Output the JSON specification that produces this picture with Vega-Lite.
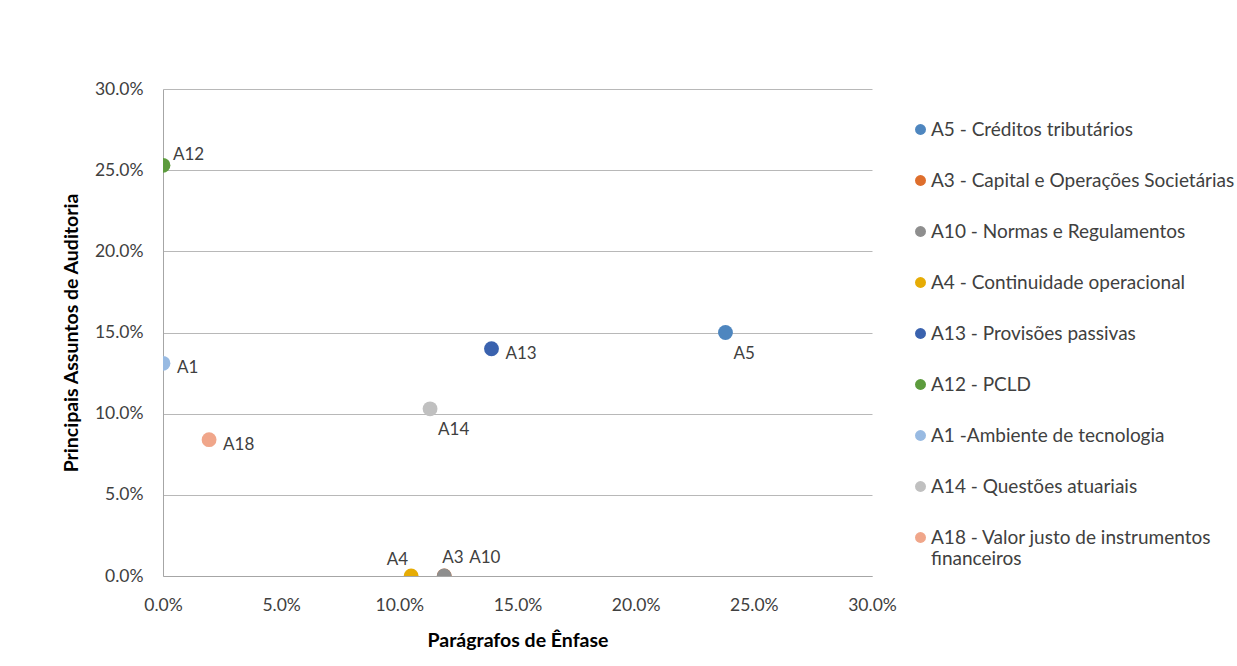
{
  "$schema": "https://vega.github.io/schema/vega-lite/v6.json",
  "width": 709,
  "height": 487,
  "autosize": {"type": "none"},
  "padding": {"left": 163, "top": 89, "right": 365, "bottom": 90},
  "background": "white",
  "config": {
    "view": {"stroke": null},
    "font": "Lato",
    "axis": {
      "labelFont": "Lato",
      "titleFont": "Lato",
      "labelFontSize": 17.5,
      "titleFontSize": 19.5,
      "labelColor": "#404040",
      "titleColor": "#000000",
      "titleFontWeight": "bold",
      "ticks": false,
      "domainColor": "#A6A6A6",
      "gridColor": "#B8B8B8"
    }
  },
  "data": {
    "values": [
      {"serie": "A5 - Créditos tributários", "label": "A5", "enfase": 0.238, "paa": 0.15},
      {"serie": "A3 - Capital e Operações Societárias", "label": "A3", "enfase": 0.119, "paa": 0.0},
      {"serie": "A10 - Normas e Regulamentos", "label": "A10", "enfase": 0.119, "paa": 0.0},
      {"serie": "A4 - Continuidade operacional", "label": "A4", "enfase": 0.105, "paa": 0.0},
      {"serie": "A13 - Provisões passivas", "label": "A13", "enfase": 0.139, "paa": 0.14},
      {"serie": "A12 - PCLD", "label": "A12", "enfase": 0.0, "paa": 0.253},
      {"serie": "A1 -Ambiente de tecnologia", "label": "A1", "enfase": 0.0, "paa": 0.131},
      {"serie": "A14 - Questões atuariais", "label": "A14", "enfase": 0.113, "paa": 0.103},
      {"serie": "A18 - Valor justo de instrumentos financeiros", "label": "A18", "enfase": 0.0195, "paa": 0.084}
    ]
  },
  "encoding": {
    "x": {
      "field": "enfase", "type": "quantitative",
      "scale": {"domain": [0, 0.3], "nice": false, "zero": false},
      "axis": {"format": ".1%", "values": [0, 0.05, 0.1, 0.15, 0.2, 0.25, 0.3], "grid": false, "labelPadding": 20, "titlePadding": 18, "title": "Parágrafos de Ênfase", "labelFlush": false}
    },
    "y": {
      "field": "paa", "type": "quantitative",
      "scale": {"domain": [0, 0.3], "nice": false, "zero": false},
      "axis": {"format": ".1%", "values": [0, 0.05, 0.1, 0.15, 0.2, 0.25, 0.3], "grid": true, "labelPadding": 20, "titlePadding": 13, "title": "Principais Assuntos de Auditoria", "domain": true, "labelFlush": false}
    }
  },
  "layer": [
    {
      "mark": {"type": "circle", "size": 220, "opacity": 1, "clip": true},
      "encoding": {
        "color": {
          "field": "serie", "type": "nominal",
          "scale": {
            "domain": ["A5 - Créditos tributários", "A3 - Capital e Operações Societárias", "A10 - Normas e Regulamentos", "A4 - Continuidade operacional", "A13 - Provisões passivas", "A12 - PCLD", "A1 -Ambiente de tecnologia", "A14 - Questões atuariais", "A18 - Valor justo de instrumentos financeiros"],
            "range": ["#4E86BF", "#DE6E2C", "#8E8E8E", "#E6AC05", "#3A62AE", "#5C9B3D", "#98BAE2", "#C0C0C0", "#F0A68A"]
          },
          "legend": {
            "title": null,
            "orient": "none",
            "legendX": 748,
            "legendY": 31,
            "padding": 0,
            "symbolType": "circle",
            "symbolSize": 120,
            "symbolStrokeWidth": 0,
            "labelFont": "Lato",
            "labelFontSize": 19,
            "labelColor": "#404040",
            "labelOffset": 1,
            "labelLimit": 600,
            "rowPadding": 31,
            "labelExpr": "datum.label == 'A18 - Valor justo de instrumentos financeiros' ? ['A18 - Valor justo de instrumentos', 'financeiros'] : datum.label"
          }
        }
      }
    },
    {
      "transform": [{"filter": "indexof(['A1','A13','A18'], datum.label) >= 0"}],
      "mark": {"type": "text", "align": "left", "baseline": "middle", "dx": 14, "dy": 5, "fontSize": 17, "font": "Lato", "color": "#404040"},
      "encoding": {"text": {"field": "label"}}
    },
    {
      "transform": [{"filter": "indexof(['A5','A14'], datum.label) >= 0"}],
      "mark": {"type": "text", "align": "left", "baseline": "middle", "dx": 8, "dy": 21, "fontSize": 17, "font": "Lato", "color": "#404040"},
      "encoding": {"text": {"field": "label"}}
    },
    {
      "transform": [{"filter": "datum.label == 'A12'"}],
      "mark": {"type": "text", "align": "left", "baseline": "middle", "dx": 10, "dy": -10, "fontSize": 17, "font": "Lato", "color": "#404040"},
      "encoding": {"text": {"field": "label"}}
    },
    {
      "transform": [{"filter": "datum.label == 'A4'"}],
      "mark": {"type": "text", "align": "right", "baseline": "middle", "dx": -3, "dy": -16, "fontSize": 17, "font": "Lato", "color": "#404040"},
      "encoding": {"text": {"field": "label"}}
    },
    {
      "transform": [{"filter": "datum.label == 'A3'"}],
      "mark": {"type": "text", "align": "left", "baseline": "middle", "dx": -2, "dy": -18, "fontSize": 17, "font": "Lato", "color": "#404040"},
      "encoding": {"text": {"field": "label"}}
    },
    {
      "transform": [{"filter": "datum.label == 'A10'"}],
      "mark": {"type": "text", "align": "left", "baseline": "middle", "dx": 25, "dy": -18, "fontSize": 17, "font": "Lato", "color": "#404040"},
      "encoding": {"text": {"field": "label"}}
    }
  ]
}
